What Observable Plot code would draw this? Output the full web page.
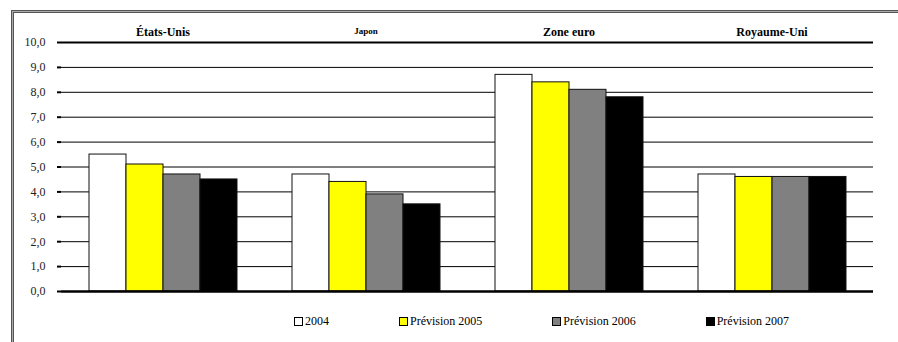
<!DOCTYPE html>
<html>
<head>
<meta charset="utf-8">
<script src="https://cdn.jsdelivr.net/npm/d3@7"></script>
<script src="https://cdn.jsdelivr.net/npm/@observablehq/plot@0.6"></script>
<style>
  html, body { margin: 0; padding: 0; background: #fff; }
  #wrap { position: relative; width: 898px; height: 342px; overflow: hidden; background: #fff; }
  #chart { position: absolute; left: 0; top: 0; }
  #border { position: absolute; left: 11px; top: 10px; width: 920px; height: 360px;
            border: 1px solid #555; box-shadow: inset 0 0 0 1px #aaa, inset 0 0 0 2px #555; }
  #legend { position: absolute; left: 294px; top: 314px; display: flex; gap: 70px;
            font-size: 12px; line-height: 14px; color: #000; }
  #legend .item { display: flex; align-items: center; }
  #legend .sw { width: 7px; height: 7px; border: 1px solid #000; margin-right: 2px; }
</style>
</head>
<body>
<div id="wrap" style="font-family:'Liberation Serif'">
  <div id="border"></div>
  <div id="chart"></div>
  <div id="legend" style="font-family:'Liberation Serif'"></div>
</div>
<script>
// Country groups and the four series (observed 2004, forecasts 2005–2007)
const countries = ["États-Unis", "Japon", "Zone euro", "Royaume-Uni"];
const series = ["2004", "Prévision 2005", "Prévision 2006", "Prévision 2007"];
const v2004 = [5.5, 4.7, 8.7, 4.7];
const v2005 = [5.1, 4.4, 8.4, 4.6];
const v2006 = [4.7, 3.9, 8.1, 4.6];
const v2007 = [4.5, 3.5, 7.8, 4.6];
const yTicks = [0, 1, 2, 3, 4, 5, 6, 7, 8, 9, 10];

const seriesColors = ["#ffffff", "#ffff00", "#808080", "#000000"];

const valuesBySeries = [v2004, v2005, v2006, v2007];
const rows = [];
countries.forEach((country, i) => {
  series.forEach((s, j) => rows.push({country, series: s, value: valuesBySeries[j][i]}));
});

const fmt = d => d.toFixed(1).replace(".", ",");
const serif = "'Liberation Serif'";

const chart = Plot.plot({
  width: 898,
  height: 300,
  marginLeft: 61,
  marginRight: 25,
  marginTop: 42,
  marginBottom: 9,
  style: {fontFamily: serif, fontSize: "12px", color: "#000", background: "transparent"},
  fx: {domain: countries, padding: 0, axis: null},
  x: {domain: series, paddingInner: 0, paddingOuter: 0.69, axis: null},
  y: {domain: [0, 10]},
  color: {domain: series, range: seriesColors},
  marks: [
    Plot.gridY(yTicks, {stroke: "#000", strokeOpacity: 1, strokeWidth: 1}),
    Plot.barY(rows, {fx: "country", x: "series", y: "value", fill: "series", stroke: "#111", strokeWidth: 1}),
    Plot.ruleY([10], {stroke: "#000", strokeWidth: 2}),
    Plot.ruleY([0], {stroke: "#000", strokeWidth: 2.5}),
    Plot.axisY({anchor: "left", ticks: yTicks, tickFormat: fmt, tickSize: 4, tickPadding: 12, strokeWidth: 2, label: null, fill: "#222", fontFamily: serif, fontSize: 12}),
    Plot.axisY({anchor: "left", ticks: [], line: true, strokeWidth: 3, label: null}),
    Plot.axisY({anchor: "right", ticks: [], line: true, strokeWidth: 1.5, label: null}),
    Plot.text(countries, {
      fx: d => d,
      text: d => d,
      frameAnchor: "top",
      dy: -15,
      fontFamily: serif,
      fontWeight: "bold",
      fontSize: d => (d === "Japon" ? 9 : 12),
      fill: "#000"
    })
  ]
});
chart.setAttribute("font-family", "Liberation Serif");
document.getElementById("chart").appendChild(chart);

// Legend below the plot
const legend = d3.select("#legend");
series.forEach((s, i) => {
  const item = legend.append("div").attr("class", "item");
  item.append("div").attr("class", "sw").style("background", seriesColors[i]);
  item.append("span").text(s);
});
</script>
</body>
</html>
